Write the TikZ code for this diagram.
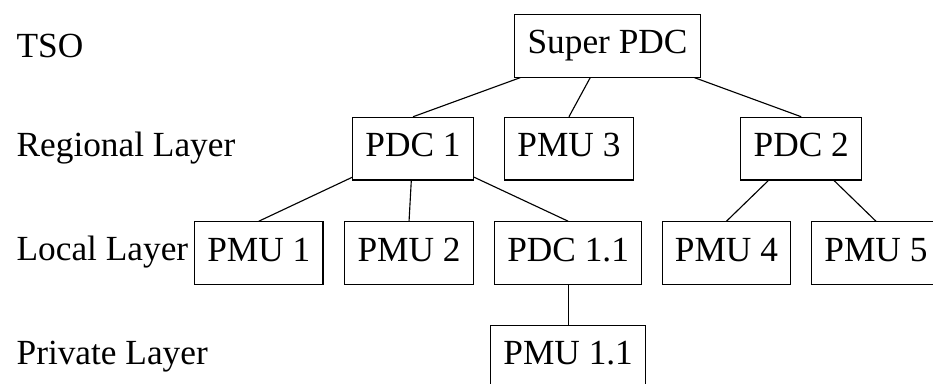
\documentclass[tikz,border=0pt]{standalone}
\usepackage{fontspec}
\setmainfont{Liberation Serif}
\usepackage{tikz}
\usetikzlibrary{positioning}

\begin{document}
\begin{tikzpicture}[
    unit/.style={rectangle, draw, thin, font=\fontsize{12.5}{14}\selectfont,
                 inner xsep=4.5pt, inner ysep=4pt, text height=9.9pt, text depth=4.3pt},
    layer/.style={anchor=base west, inner sep=0pt, font=\fontsize{12.5}{14}\selectfont},
    link/.style={draw, thin}
]
\useasboundingbox (0,0) rectangle (11.61,-4.77);

% Layer names
\node[layer] (tso) at (0.2, -0.71) {TSO};
\node[layer] (regional) at (0.2, -1.95) {Regional Layer};
\node[layer] (local) at (0.2, -3.24) {Local Layer};
\node[layer] (private) at (0.2, -4.54) {Private Layer};

% Top level
\node[unit] (super) at (7.56, -0.57) {Super PDC};

% Regional level
\node[unit] (pdc1) at (5.14, -1.85) {PDC 1};
\node[unit] (pmu3) at (7.08, -1.85) {PMU 3};
\node[unit] (pdc2) at (9.97, -1.85) {PDC 2};

% Local level
\node[unit] (pmu1) at (3.22, -3.15) {PMU 1};
\node[unit] (pmu2) at (5.09, -3.15) {PMU 2};
\node[unit] (pdc11) at (7.07, -3.15) {PDC 1.1};
\node[unit] (pmu4) at (9.04, -3.15) {PMU 4};
\node[unit] (pmu5) at (10.90, -3.15) {PMU 5};

% Private level
\node[unit] (pmu11) at (7.07, -4.44) {PMU 1.1};

% Links
\path[link] (super) -- (pdc1.north);
\path[link] (super) -- (pmu3.north);
\path[link] (super) -- (pdc2.north);
\path[link] (pdc1) -- (pmu1.north);
\path[link] (pdc1) -- (pmu2.north);
\path[link] (pdc1) -- (pdc11.north);
\path[link] (pdc2) -- (pmu4.north);
\path[link] (pdc2) -- (pmu5.north);
\path[link] (pdc11) -- (pmu11.north);

\end{tikzpicture}
\end{document}
